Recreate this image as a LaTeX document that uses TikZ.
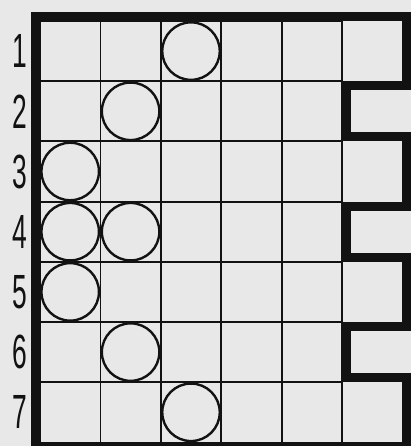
\documentclass[tikz,border=0pt]{standalone}
\usepackage{fontspec}
\setmainfont{Liberation Sans}
\usepackage{xcolor}
\usetikzlibrary{positioning}

\definecolor{paper}{gray}{0.91}
\definecolor{ink}{gray}{0.07}

\begin{document}
\begin{tikzpicture}[
    x=60.4pt, y=60.2pt,
    gridline/.style={draw=ink, line width=1.8pt},
    border/.style={draw=ink, line width=9pt, line join=miter},
    stone/.style={circle, draw=ink, line width=2.4pt, minimum size=57.5pt, inner sep=0pt},
    rowlabel/.style={text=ink, font=\fontsize{48}{48}\selectfont, xscale=0.55, inner sep=0pt}
]
% Page
\fill[paper] (-0.6623,0.3488) rectangle (6.1424,-7.0598);
\useasboundingbox (-0.6623,0.3488) rectangle (6.1424,-7.0598);

% Thin grid
\draw[gridline, step={(1,1)}] (0,0) grid (5,-7);

% Row numbers
\node[rowlabel] (r1) at (-0.33,-0.5) {1};
\node[rowlabel] (r2) at (-0.33,-1.5) {2};
\node[rowlabel] (r3) at (-0.33,-2.5) {3};
\node[rowlabel] (r4) at (-0.33,-3.5) {4};
\node[rowlabel] (r5) at (-0.33,-4.5) {5};
\node[rowlabel] (r6) at (-0.33,-5.5) {6};
\node[rowlabel] (r7) at (-0.33,-6.5) {7};

% Stones
\node[stone] (s13) at (2.5,-0.5) {};
\node[stone] (s22) at (1.5,-1.5) {};
\node[stone] (s31) at (0.5,-2.5) {};
\node[stone] (s41) at (0.5,-3.5) {};
\node[stone] (s42) at (1.5,-3.5) {};
\node[stone] (s51) at (0.5,-4.5) {};
\node[stone] (s62) at (1.5,-5.5) {};
\node[stone] (s73) at (2.5,-6.5) {};

% Outer wall with notches
\draw[border] (-0.075,-7.075) -- (-0.075,0.075) -- (6.075,0.075)
    -- (6.075,-1.075) -- (5.075,-1.075) -- (5.075,-1.925) -- (6.075,-1.925)
    -- (6.075,-3.075) -- (5.075,-3.075) -- (5.075,-3.925) -- (6.075,-3.925)
    -- (6.075,-5.075) -- (5.075,-5.075) -- (5.075,-5.925) -- (6.075,-5.925)
    -- (6.075,-7.075) -- cycle;
\end{tikzpicture}
\end{document}
